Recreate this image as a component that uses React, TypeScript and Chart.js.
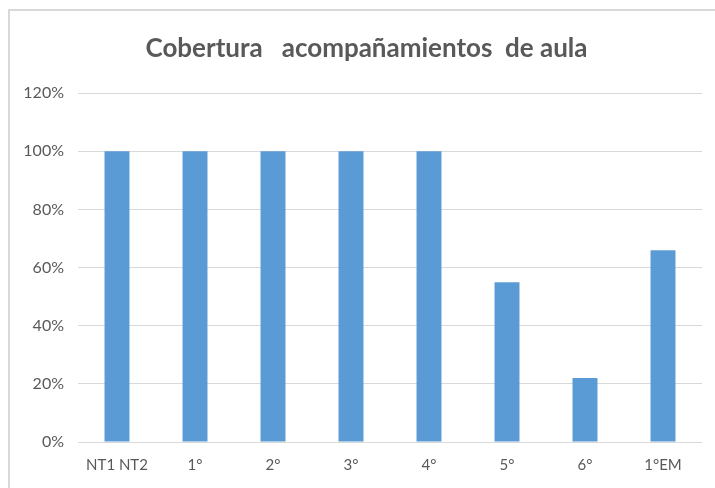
import React, { useEffect, useRef } from "react";
import { Chart, registerables } from "chart.js";

Chart.register(...registerables);

const categories = ["NT1 NT2", "1°", "2°", "3°", "4°", "5°", "6°", "1°EM"];
const coverage = [100, 100, 100, 100, 100, 55, 22, 66];
const titleText = "Cobertura   acompañamientos  de aula";

export default function App() {
  const ref = useRef<HTMLCanvasElement | null>(null);

  useEffect(() => {
    if (!ref.current) return;
    const chart = new Chart(ref.current, {
      type: "bar",
      data: {
        labels: categories,
        datasets: [
          {
            data: coverage,
            backgroundColor: "#5B9BD5",
            borderWidth: 0,
            barPercentage: 0.64,
            categoryPercentage: 0.5,
          },
        ],
      },
      options: {
        animation: false,
        responsive: true,
        maintainAspectRatio: false,
        layout: { padding: { top: 0, right: 0, bottom: 0, left: 0 } },
        plugins: {
          legend: { display: false },
          tooltip: { enabled: false },
          title: {
            display: true,
            text: titleText,
            color: "#595959",
            font: { family: "Lato", size: 26, weight: "bold" },
            padding: { top: 22, bottom: 29 },
          },
        },
        scales: {
          x: {
            grid: { display: false, drawTicks: false },
            border: { display: false },
            ticks: {
              color: "#595959",
              font: { family: "Lato", size: 15 },
              padding: 14,
              maxRotation: 0,
            },
            afterFit: (s: any) => {
              s.height = 46;
            },
          },
          y: {
            min: 0,
            max: 120,
            ticks: {
              stepSize: 20,
              color: "#595959",
              font: { family: "Lato", size: 16 },
              padding: 14,
              callback: (v: any) => v + "%",
            },
            grid: { color: "#d9d9d9", lineWidth: 1, drawTicks: false },
            border: { display: false },
            afterFit: (s: any) => {
              s.width = 68;
            },
          },
          yRight: {
            type: "linear",
            position: "right",
            min: 0,
            max: 120,
            ticks: { display: false },
            grid: { display: false, drawTicks: false },
            border: { display: false },
            afterFit: (s: any) => {
              s.width = 21;
            },
          },
        },
      },
    });
    return () => chart.destroy();
  }, []);

  return (
    <div
      style={{
        position: "absolute",
        left: 8,
        top: 9,
        width: 707,
        height: 479,
        borderLeft: "2px solid #d9d9d9",
        borderTop: "2px solid #d9d9d9",
        boxSizing: "border-box",
        background: "#fff",
        overflow: "hidden",
      }}
    >
      <div style={{ position: "relative", width: 713, height: 477 }}>
        <canvas ref={ref} />
      </div>
    </div>
  );
}
